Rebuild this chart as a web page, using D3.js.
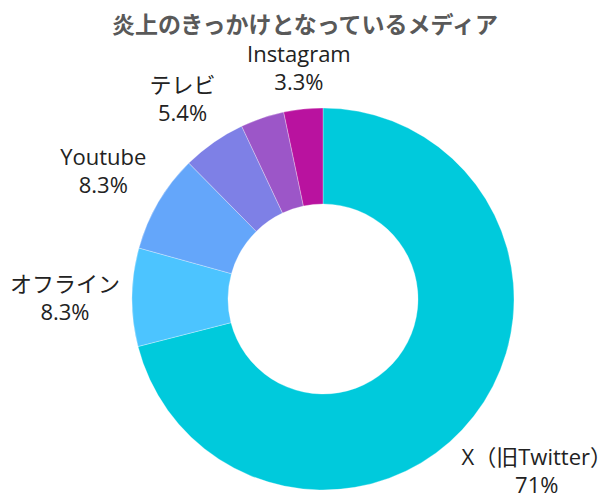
<!DOCTYPE html>
<html>
<head>
<meta charset="utf-8">
<script src="https://cdn.jsdelivr.net/npm/d3@7"></script>
<style>
  body { margin: 0; background: #fff; }
  text { font-family: "Open Sans", "Noto Sans CJK JP", sans-serif; }
</style>
</head>
<body>
<script>
const width = 616;
const height = 500;

// data (one small slice has no visible label)
const media = ["X（旧Twitter）", "オフライン", "Youtube", "テレビ", "", "Instagram"];
const shares = [71.0, 8.3, 8.3, 5.4, 3.7, 3.3];
const shareLabels = ["71%", "8.3%", "8.3%", "5.4%", "", "3.3%"];
const colors = ["#00cadc", "#4cc4ff", "#64a6fa", "#7e80e6", "#9c56c8", "#b9129f"];

const cx = 323, cy = 299;
const outerR = 191, innerR = 95;
const labelGap = 203;

const svg = d3.select("body").append("svg")
  .attr("width", width)
  .attr("height", height);

svg.append("text")
  .attr("x", 305)
  .attr("y", 33)
  .attr("text-anchor", "middle")
  .attr("font-size", 23)
  .attr("font-weight", "bold")
  .attr("fill", "#595959")
  .attr("font-family", "\"Noto Sans CJK JP\", sans-serif")
  .text("炎上のきっかけとなっているメディア");

const data = media.map((m, i) => ({ name: m, value: shares[i], label: shareLabels[i], color: colors[i] }));

// clockwise from top: X first
const pie = d3.pie().sort(null).value(d => d.value);
const arcs = pie(data);

const arc = d3.arc().innerRadius(innerR).outerRadius(outerR);

const g = svg.append("g").attr("transform", `translate(${cx},${cy})`);

g.selectAll("path.slice")
  .data(arcs)
  .enter().append("path")
  .attr("class", "slice")
  .attr("d", arc)
  .attr("fill", d => d.data.color)
  .attr("stroke", "#ffffff")
  .attr("stroke-opacity", 0.5)
  .attr("stroke-width", 0.6);

// labels: box centred on the slice's mid ray, pushed out until it clears the ring
const labels = g.selectAll("g.lbl")
  .data(arcs.filter(d => d.data.name !== ""))
  .enter().append("g")
  .attr("class", "lbl");

labels.each(function(d) {
  const t = d3.select(this).append("text")
    .attr("text-anchor", "middle")
    .attr("font-size", 22)
    .attr("fill", "#222");
  t.append("tspan").attr("x", 0).attr("y", 0).text(d.data.name);
  t.append("tspan").attr("x", 0).attr("y", 28).text(d.data.label);

  const bb = t.node().getBBox();
  const mid = (d.startAngle + d.endAngle) / 2;
  const ux = Math.sin(mid), uy = -Math.cos(mid);

  function clearance(r) {
    const bx = r * ux, by = r * uy;
    const x0 = bx - bb.width / 2, x1 = bx + bb.width / 2;
    const y0 = by - bb.height / 2, y1 = by + bb.height / 2;
    const nx = Math.max(x0, Math.min(0, x1));
    const ny = Math.max(y0, Math.min(0, y1));
    return Math.hypot(nx, ny);
  }
  let lo = 0, hi = 600;
  for (let k = 0; k < 40; k++) {
    const m = (lo + hi) / 2;
    if (clearance(m) < labelGap) lo = m; else hi = m;
  }
  const bx = hi * ux, by = hi * uy;
  // shift so the text box centre sits on (bx, by)
  let ox = bx - (bb.x + bb.width / 2);
  const oy = by - (bb.y + bb.height / 2);
  // keep the box inside the page
  const right = cx + ox + bb.x + bb.width;
  if (right > width - 4) ox -= right - (width - 4);
  t.attr("transform", `translate(${ox},${oy})`);
});
</script>
</body>
</html>
